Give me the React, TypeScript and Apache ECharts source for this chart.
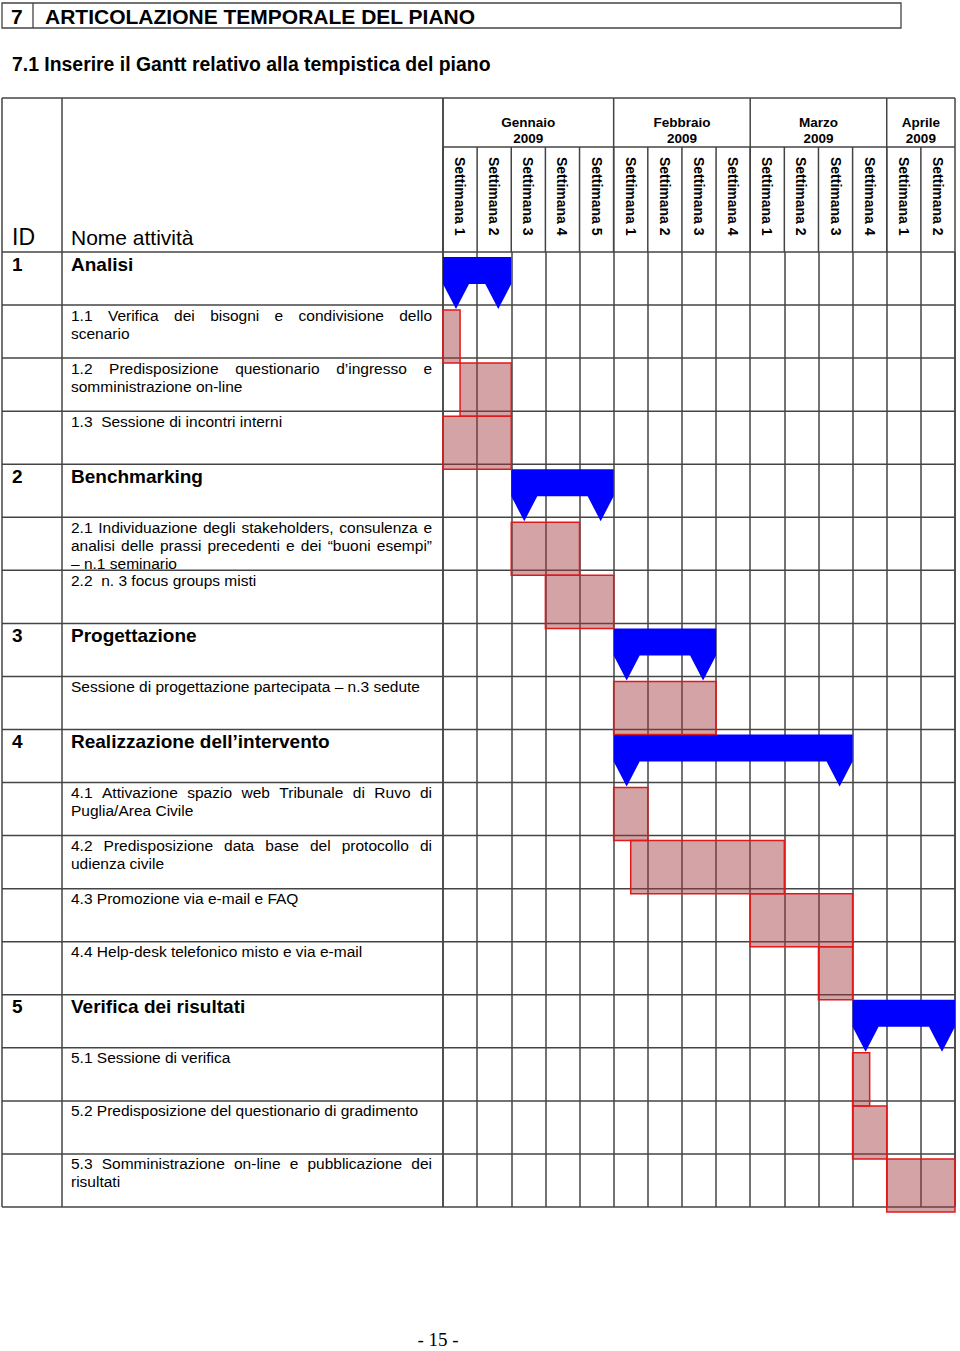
import React, { useEffect, useRef } from "react";
import * as echarts from "echarts";

// ---------- data ----------
const weekLabels = [
  "Settimana 1", "Settimana 2", "Settimana 3", "Settimana 4", "Settimana 5",
  "Settimana 1", "Settimana 2", "Settimana 3", "Settimana 4",
  "Settimana 1", "Settimana 2", "Settimana 3", "Settimana 4",
  "Settimana 1", "Settimana 2",
];
const monthLabels = ["Gennaio\n2009", "Febbraio\n2009", "Marzo\n2009", "Aprile\n2009"];
const monthWeekCounts = [5, 4, 4, 2];

const rowIds = ["1", "", "", "", "2", "", "", "3", "", "4", "", "", "", "", "5", "", "", ""];
const rowNames = [
  "Analisi",
  "1.1 Verifica dei bisogni e condivisione dello\nscenario",
  "1.2 Predisposizione questionario d\u2019ingresso e\nsomministrazione on-line",
  "1.3  Sessione di incontri interni",
  "Benchmarking",
  "2.1 Individuazione degli stakeholders, consulenza e\nanalisi delle prassi precedenti e dei \u201cbuoni esempi\u201d\n\u2013 n.1 seminario",
  "2.2  n. 3 focus groups misti",
  "Progettazione",
  "Sessione di progettazione partecipata \u2013 n.3 sedute",
  "Realizzazione dell\u2019intervento",
  "4.1 Attivazione spazio web Tribunale di Ruvo di\nPuglia/Area Civile",
  "4.2 Predisposizione data base del protocollo di\nudienza civile",
  "4.3 Promozione via e-mail e FAQ",
  "4.4 Help-desk telefonico misto e via e-mail",
  "Verifica dei risultati",
  "5.1 Sessione di verifica",
  "5.2 Predisposizione del questionario di gradimento",
  "5.3 Somministrazione on-line e pubblicazione dei\nrisultati",
];

// phase (summary) bars, in weeks
const phaseRow = [0, 4, 7, 9, 14];
const phaseStart = [0, 2, 5, 5, 12];
const phaseEnd = [2, 5, 8, 12, 15];

// activity bars, in weeks
const taskRow = [1, 2, 3, 5, 6, 8, 10, 11, 12, 13, 15, 16, 17];
const taskStart = [0, 0.5, 0, 2, 3, 5, 5, 5.5, 9, 11, 12, 12, 13];
const taskEnd = [0.5, 2, 2, 4, 5, 8, 6, 10, 12, 12, 12.5, 13, 15];

// ---------- style ----------
const LINE = "#444444";
const LW = 1.5;
const FAMILY = '"Liberation Sans", Arial, Helvetica, sans-serif';
const ID_X = 12;
const NAME_L = 71;
const NAME_R = 432;
const TABLE_L = 2;
const COL_ID = 62;
const COL_NAME = 443;
const HEAD_TOP = 98;
const MONTH_BOTTOM = 147;
const GRID_TOP = 252;
const GRID_BOTTOM_PX = 1207;
const SUB_SIZE = 15.5;

let measureCtx: CanvasRenderingContext2D | null = null;
function textWidth(t: string, font: string): number {
  if (!measureCtx) measureCtx = document.createElement("canvas").getContext("2d");
  if (!measureCtx) return t.length * 8;
  measureCtx.font = font;
  return measureCtx.measureText(t).width;
}

function txt(text: string, x: number, y: number, size: number, bold: boolean, extra: any = {}) {
  return {
    type: "text",
    x,
    y,
    ...extra,
    style: {
      text,
      fill: "#000",
      fontSize: size,
      fontWeight: bold ? "bold" : "normal",
      fontFamily: FAMILY,
      textAlign: "left",
      textVerticalAlign: "middle",
      ...(extra.style || {}),
    },
  };
}

function hline(x1: number, x2: number, y: number) {
  return { type: "line", shape: { x1, y1: y, x2, y2: y }, style: { stroke: LINE, lineWidth: LW } };
}
function vline(x: number, y1: number, y2: number) {
  return { type: "line", shape: { x1: x, y1, x2: x, y2 }, style: { stroke: LINE, lineWidth: LW } };
}

function nameElements(i: number, top: number): any[] {
  const out: any[] = [];
  if (rowIds[i] !== "") {
    out.push(txt(rowIds[i], ID_X, top + 12, 19, true));
    out.push(txt(rowNames[i], NAME_L, top + 12, 19, true));
    return out;
  }
  const lines = rowNames[i].split("\n");
  const font = `${SUB_SIZE}px "Liberation Sans"`;
  lines.forEach((ln, k) => {
    const y = top + 10 + k * 18;
    if (k === lines.length - 1) {
      out.push(txt(ln, NAME_L, y, SUB_SIZE, false));
      return;
    }
    const words = ln.split(/\s+/);
    const ws = words.map((w) => textWidth(w, font));
    const total = ws.reduce((a, b) => a + b, 0);
    const gap = words.length > 1 ? (NAME_R - NAME_L - total) / (words.length - 1) : 0;
    let x = NAME_L;
    words.forEach((w, j) => {
      out.push(txt(w, x, y, SUB_SIZE, false));
      x += ws[j] + gap;
    });
  });
  return out;
}

export default function App() {
  const ref = useRef<HTMLDivElement>(null);

  useEffect(() => {
    if (!ref.current) return;
    const chart = echarts.init(ref.current, undefined, { renderer: "svg" });

    const monthData: number[][] = [];
    let acc = 0;
    monthWeekCounts.forEach((c) => {
      monthData.push([acc, acc + c, 0]);
      acc += c;
    });

    const option: any = {
      animation: false,
      grid: { left: COL_NAME, right: 960 - 955, top: GRID_TOP, bottom: 1351 - GRID_BOTTOM_PX },
      xAxis: {
        type: "value",
        min: 0,
        max: 15,
        interval: 1,
        axisLabel: { show: false },
        axisTick: { show: false },
        axisLine: { show: false },
        splitLine: { show: true, lineStyle: { color: LINE, width: LW } },
      },
      yAxis: {
        type: "category",
        data: rowIds.map((_, i) => String(i)),
        inverse: true,
        axisLabel: { show: false },
        axisTick: { show: false },
        axisLine: { show: false },
        splitLine: { show: false },
      },
      graphic: [
        { type: "rect", shape: { x: 2, y: 3, width: 899, height: 25 }, style: { fill: "none", stroke: LINE, lineWidth: 1.3 } },
        { type: "line", shape: { x1: 33, y1: 3, x2: 33, y2: 28 }, style: { stroke: LINE, lineWidth: 1.3 } },
        txt("7", 11, 16, 21, true),
        txt("ARTICOLAZIONE TEMPORALE DEL PIANO", 45, 16, 21, true),
        txt("7.1 Inserire il Gantt relativo alla tempistica del piano", 12, 64, 19.4, true),
        txt("ID", 12, 237, 23, false),
        txt("Nome attivit\u00e0", 71, 237, 21, false),
        txt("- 15 -", 438, 1339, 19, false, { style: { textAlign: "center", fontFamily: '"Liberation Serif", "Times New Roman", serif' } }),
      ],
      series: [
        {
          type: "custom",
          name: "tabella",
          z: 1,
          silent: true,
          data: rowIds.map((_, i) => [0, i]),
          encode: { x: 0, y: 1 },
          renderItem: (params: any, api: any) => {
            const i = params.dataIndex;
            const c = api.coord([0, i]);
            const right = api.coord([15, i])[0];
            const h = api.size([0, 1])[1];
            const top = c[1] - h / 2;
            const children: any[] = [hline(TABLE_L, right, top)];
            if (i === rowIds.length - 1) {
              children.push(hline(TABLE_L, right, top + h));
              children.push(vline(TABLE_L, HEAD_TOP, top + h));
              children.push(vline(COL_ID, HEAD_TOP, top + h));
              children.push(vline(COL_NAME, HEAD_TOP, top + h));
              children.push(vline(right, HEAD_TOP, top + h));
            }
            children.push(...nameElements(i, top));
            return { type: "group", children };
          },
        },
        {
          type: "custom",
          name: "mesi",
          z: 1,
          silent: true,
          data: monthData,
          encode: { x: [0, 1], y: 2 },
          renderItem: (params: any, api: any) => {
            const x0 = api.coord([api.value(0), 0])[0];
            const x1 = api.coord([api.value(1), 0])[0];
            const children: any[] = [
              vline(x0, HEAD_TOP, GRID_TOP),
              hline(x0, x1, MONTH_BOTTOM),
              hline(params.dataIndex === 0 ? TABLE_L : x0, x1, HEAD_TOP),
              {
                type: "text",
                x: (x0 + x1) / 2,
                y: 130,
                style: {
                  text: monthLabels[params.dataIndex],
                  fill: "#000",
                  fontSize: 13.5,
                  fontWeight: "bold",
                  fontFamily: FAMILY,
                  lineHeight: 16,
                  textAlign: "center",
                  textVerticalAlign: "middle",
                },
              },
            ];
            return { type: "group", children };
          },
        },
        {
          type: "custom",
          name: "settimane",
          z: 1,
          silent: true,
          data: weekLabels.map((_, i) => [i, i + 1, 0]),
          encode: { x: [0, 1], y: 2 },
          renderItem: (params: any, api: any) => {
            const x0 = api.coord([api.value(0), 0])[0];
            const x1 = api.coord([api.value(1), 0])[0];
            return {
              type: "group",
              children: [
                vline(x0, MONTH_BOTTOM, GRID_TOP),
                {
                  type: "text",
                  x: (x0 + x1) / 2,
                  y: 157,
                  rotation: -Math.PI / 2,
                  style: {
                    text: weekLabels[params.dataIndex],
                    fill: "#000",
                    fontSize: 14,
                    fontWeight: "bold",
                    fontFamily: FAMILY,
                    textAlign: "left",
                    textVerticalAlign: "middle",
                  },
                },
              ],
            };
          },
        },
        {
          type: "custom",
          name: "Fasi",
          z: 3,
          silent: true,
          data: phaseRow.map((r, k) => [phaseStart[k], phaseEnd[k], r]),
          encode: { x: [0, 1], y: 2 },
          renderItem: (params: any, api: any) => {
            const s = api.coord([api.value(0), api.value(2)]);
            const e = api.coord([api.value(1), api.value(2)]);
            const h = api.size([0, 1])[1];
            const y0 = s[1] - h / 2 + 5;
            const yb = y0 + 27;
            const yt = y0 + 52;
            const x0 = s[0];
            const x1 = e[0];
            const tw = 26;
            return {
              type: "polygon",
              shape: {
                points: [
                  [x0, y0], [x1, y0], [x1, yb], [x1 - tw / 2, yt], [x1 - tw, yb],
                  [x0 + tw, yb], [x0 + tw / 2, yt], [x0, yb],
                ],
              },
              style: { fill: "#0000ff", stroke: "none" },
            };
          },
        },
        {
          type: "custom",
          name: "Attivit\u00e0",
          z: 4,
          silent: true,
          data: taskRow.map((r, k) => [taskStart[k], taskEnd[k], r]),
          encode: { x: [0, 1], y: 2 },
          renderItem: (params: any, api: any) => {
            const s = api.coord([api.value(0), api.value(2)]);
            const e = api.coord([api.value(1), api.value(2)]);
            const h = api.size([0, 1])[1];
            const y0 = s[1] - h / 2 + 5;
            return {
              type: "rect",
              shape: { x: s[0], y: y0, width: e[0] - s[0], height: h },
              style: { fill: "rgba(160,55,60,0.46)", stroke: "#e01a1a", lineWidth: 1.5 },
            };
          },
        },
      ],
    };

    chart.setOption(option);
    return () => chart.dispose();
  }, []);

  return (
    <div
      ref={ref}
      style={{ position: "absolute", left: 0, top: 0, width: 960, height: 1351, background: "#fff" }}
    />
  );
}
